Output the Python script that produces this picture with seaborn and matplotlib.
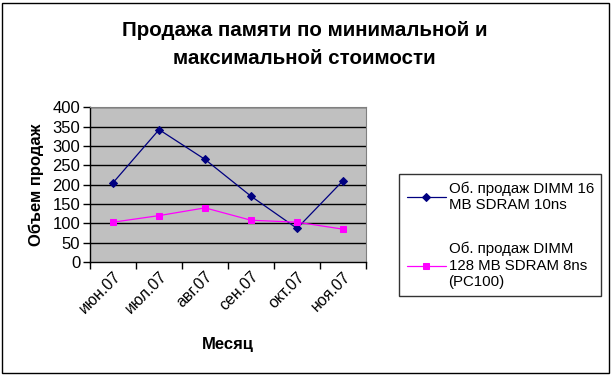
import seaborn as sns
import matplotlib.pyplot as plt
import matplotlib
import pandas as pd
from matplotlib.patches import Rectangle
matplotlib.use('Agg')

months = ["июн.07", "июл.07", "авг.07", "сен.07", "окт.07", "ноя.07"]
dimm16 = [205, 342, 265, 170, 87, 210]
dimm128 = [103, 120, 140, 108, 103, 85]
label16 = "Об. продаж DIMM 16\nMB SDRAM 10ns"
label128 = "Об. продаж DIMM\n128 MB SDRAM 8ns\n(PC100)"

df = pd.DataFrame({"pos": range(len(months)), "month": months,
                   "dimm16": dimm16, "dimm128": dimm128})

sns.set_style("white")
plt.rcParams['font.family'] = ['Liberation Sans', 'DejaVu Sans']
for k in ["text.color", "axes.labelcolor", "xtick.color", "ytick.color"]:
    plt.rcParams[k] = "black"

fig = plt.figure(figsize=(6.13, 3.76), dpi=100)
ax = fig.add_axes([0.147, 0.303, 0.45, 0.412])
ax.set_facecolor("#C0C0C0")

sns.lineplot(data=df, x="pos", y="dimm16", ax=ax, color="#000080",
             marker="D", markersize=4.5, linewidth=0.9, label=label16,
             markeredgecolor="#000080")
sns.lineplot(data=df, x="pos", y="dimm128", ax=ax, color="#FF00FF",
             marker="s", markersize=5, linewidth=0.9, label=label128,
             markeredgecolor="#FF00FF")

ax.set_ylim(0, 400)
ax.set_yticks(range(0, 401, 50))
ax.set_xlim(-0.5, len(months) - 0.5)
ax.set_xticks([i - 0.5 for i in range(len(months) + 1)])
ax.set_xticklabels([])
ax.set_xticks(range(len(months)), minor=True)
ax.set_xticklabels(months, minor=True, rotation=45, ha="right",
                   rotation_mode="anchor", fontsize=11.5)
ax.tick_params(axis="x", which="minor", length=0, pad=5)
ax.tick_params(axis="x", which="major", length=5, width=1, direction="out",
               color="black", bottom=True)
ax.tick_params(axis="y", length=5, width=1, direction="out", color="black",
               left=True, labelsize=12, pad=2)
for v in range(50, 401, 50):
    ax.axhline(v, color="black", linewidth=1, zorder=1)
for s in ["left", "bottom"]:
    ax.spines[s].set_color("black")
    ax.spines[s].set_linewidth(1)
for s in ["top", "right"]:
    ax.spines[s].set_color("#808080")

ax.set_xlabel("Месяц", fontsize=12, fontweight="bold", labelpad=15)
ax.set_ylabel("Объем продаж", fontsize=12, fontweight="bold", labelpad=6)

fig.suptitle("Продажа памяти по минимальной и\nмаксимальной стоимости",
             fontsize=14.8, fontweight="bold", y=0.945, x=0.497,
             linespacing=1.6)

h, l = ax.get_legend_handles_labels()
ax.get_legend().remove()
leg = fig.legend(h, l, loc="center", bbox_to_anchor=(0.816, 0.375),
                 fontsize=10.8, frameon=True, fancybox=False,
                 edgecolor="black", labelspacing=2.0, handlelength=2.6,
                 handletextpad=0.2, borderpad=0.5, borderaxespad=0)
leg.get_frame().set_linewidth(1)

fig.patches.append(Rectangle((0.004, 0.008), 0.99, 0.985,
                             transform=fig.transFigure, fill=False,
                             edgecolor="black", linewidth=1))

plt.savefig("out.png", dpi=100)
